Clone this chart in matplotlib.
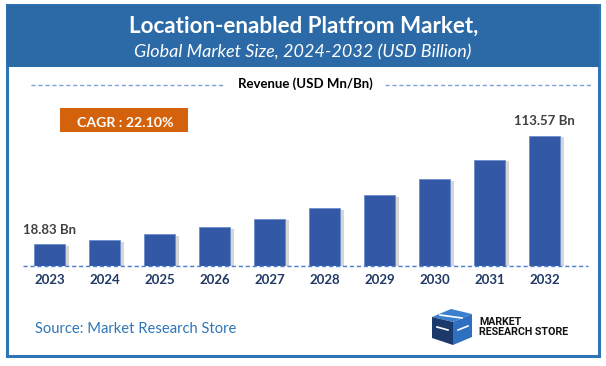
import matplotlib
matplotlib.use("Agg")
import matplotlib.pyplot as plt
import matplotlib.patheffects as pe
from matplotlib.patches import Rectangle, Polygon

# ---- data ----
years = ["2023", "2024", "2025", "2026", "2027", "2028", "2029", "2030", "2031", "2032"]
revenue = [18.83, 22.4, 27.6, 33.7, 41.2, 50.3, 61.6, 75.6, 92.4, 113.57]
value_labels = {0: "18.83 Bn", 9: "113.57 Bn"}
title = "Location-enabled Platfrom Market,"
subtitle = "Global Market Size, 2024-2032 (USD Billion)"
axis_title = "Revenue (USD Mn/Bn)"
cagr_text = "CAGR : 22.10%"
source_text = "Source: Market Research Store"

W, H = 606, 366
fig = plt.figure(figsize=(W / 100, H / 100), dpi=100)
fig.patch.set_facecolor("white")

# overlay axes in pixel coordinates (y down)
ov = fig.add_axes([0, 0, 1, 1], zorder=0)
ov.set_xlim(0, W)
ov.set_ylim(H, 0)
ov.axis("off")

renderer = fig.canvas.get_renderer()


def fit_text(x, y, s, target_w, ha="center", va="baseline", size=10, **kw):
    t = ov.text(x, y, s, ha=ha, va=va, fontsize=size, **kw)
    bb = t.get_window_extent(renderer=renderer)
    if bb.width > 0:
        t.set_fontsize(size * target_w / bb.width)
    return t


border_c = "#2E75B6"
header_c = "#2B6AA6"

# frame + header
ov.add_patch(Rectangle((7, 5), 592, 351, facecolor="white", edgecolor=border_c, lw=2.2, zorder=1))
ov.add_patch(Rectangle((7, 5), 592, 62, facecolor=header_c, edgecolor="none", zorder=2))

fit_text(304, 33, title, 350, color="white", fontweight="bold", family="Lato", zorder=3)
fit_text(303, 57, subtitle, 338, color="white", style="italic", family="Lato", zorder=3)

# axis title with dashed lines
dash_c = "#7FA0D6"
ov.plot([31, 225], [85, 85], ls=(0, (3, 2)), color=dash_c, lw=1, zorder=3)
ov.plot([385, 593], [85, 85], ls=(0, (3, 2)), color=dash_c, lw=1, zorder=3)
fit_text(305, 87.5, axis_title, 136, color="black", fontweight="bold", family="Lato", zorder=3)

# CAGR box
ov.add_patch(Rectangle((60, 108), 128, 24, facecolor="#D4620C", edgecolor="none", zorder=3))
fit_text(125.5, 127, cagr_text, 97, color="white", fontweight="bold", family="Lato", zorder=4)

# source
fit_text(35, 333, source_text, 202, ha="left", color="#2E75B6", family="Lato", zorder=3)

# logo
ov.add_patch(Polygon([(432, 317), (451, 309), (472, 314), (453, 322)], closed=True,
                     facecolor="#3A7FD0", edgecolor="none", zorder=3))
ov.add_patch(Polygon([(432, 317), (453, 322), (453, 345), (432, 338)], closed=True,
                     facecolor="#1B3A6B", edgecolor="none", zorder=3))
ov.add_patch(Polygon([(453, 322), (472, 314), (472, 337), (453, 345)], closed=True,
                     facecolor="#2F6FC0", edgecolor="none", zorder=3))
ov.plot([437, 448], [327, 330], color="white", lw=1.2, zorder=4)
ov.plot([458, 468], [330, 326], color="white", lw=1.2, zorder=4)
ov.plot([440, 462], [315, 318], color="white", lw=1.2, zorder=4)
t2 = fit_text(479, 335, "RESEARCH STORE", 89, ha="left", color="#111111", fontweight="bold",
              family="Roboto", zorder=3)
ov.text(479, 325, "MARKET", ha="left", va="baseline", fontsize=t2.get_fontsize(),
        color="#111111", fontweight="bold", family="Roboto", zorder=3)

# ---- chart axes ----
ax_left, ax_right = 23, 588
ax_bottom_px, ax_top_px = 266, 120
ax = fig.add_axes([ax_left / W, 1 - ax_bottom_px / H, (ax_right - ax_left) / W,
                   (ax_bottom_px - ax_top_px) / H], zorder=2)
ax.patch.set_alpha(0)
px_per_unit = (266 - 135.7) / 113.57
ax.set_xlim(-0.48, 9.79)
ax.set_ylim(0, (ax_bottom_px - ax_top_px) / px_per_unit)

x = list(range(len(years)))
bars = ax.bar(x, revenue, width=0.56, color="#3358A6", edgecolor="#6E8CCB", lw=0.6, zorder=3)
for b in bars:
    b.set_path_effects([pe.SimplePatchShadow(offset=(3, -1), shadow_rgbFace="#8A8A8A", alpha=0.35),
                        pe.Normal()])

ax.axhline(0, color="#C9D3E6", lw=1, zorder=2)
ax.axhline(0, color="#4F7FCF", lw=1, ls=(0, (3, 2)), zorder=4, clip_on=False)

for spine in ax.spines.values():
    spine.set_visible(False)
ax.set_yticks([])
ax.set_xticks(x)
ax.set_xticklabels(years, fontweight="bold", color="#1F3864", family="Lato", fontsize=9.5)
ax.tick_params(axis="x", length=0, pad=6)

for i, lab in value_labels.items():
    ax.annotate(lab, (i, revenue[i]), xytext=(0, 6), textcoords="offset points",
                ha="center", va="bottom", fontsize=9.5, fontweight="bold",
                color="#404040", family="Lato")

fig.savefig("out.png", dpi=100, facecolor="white")
